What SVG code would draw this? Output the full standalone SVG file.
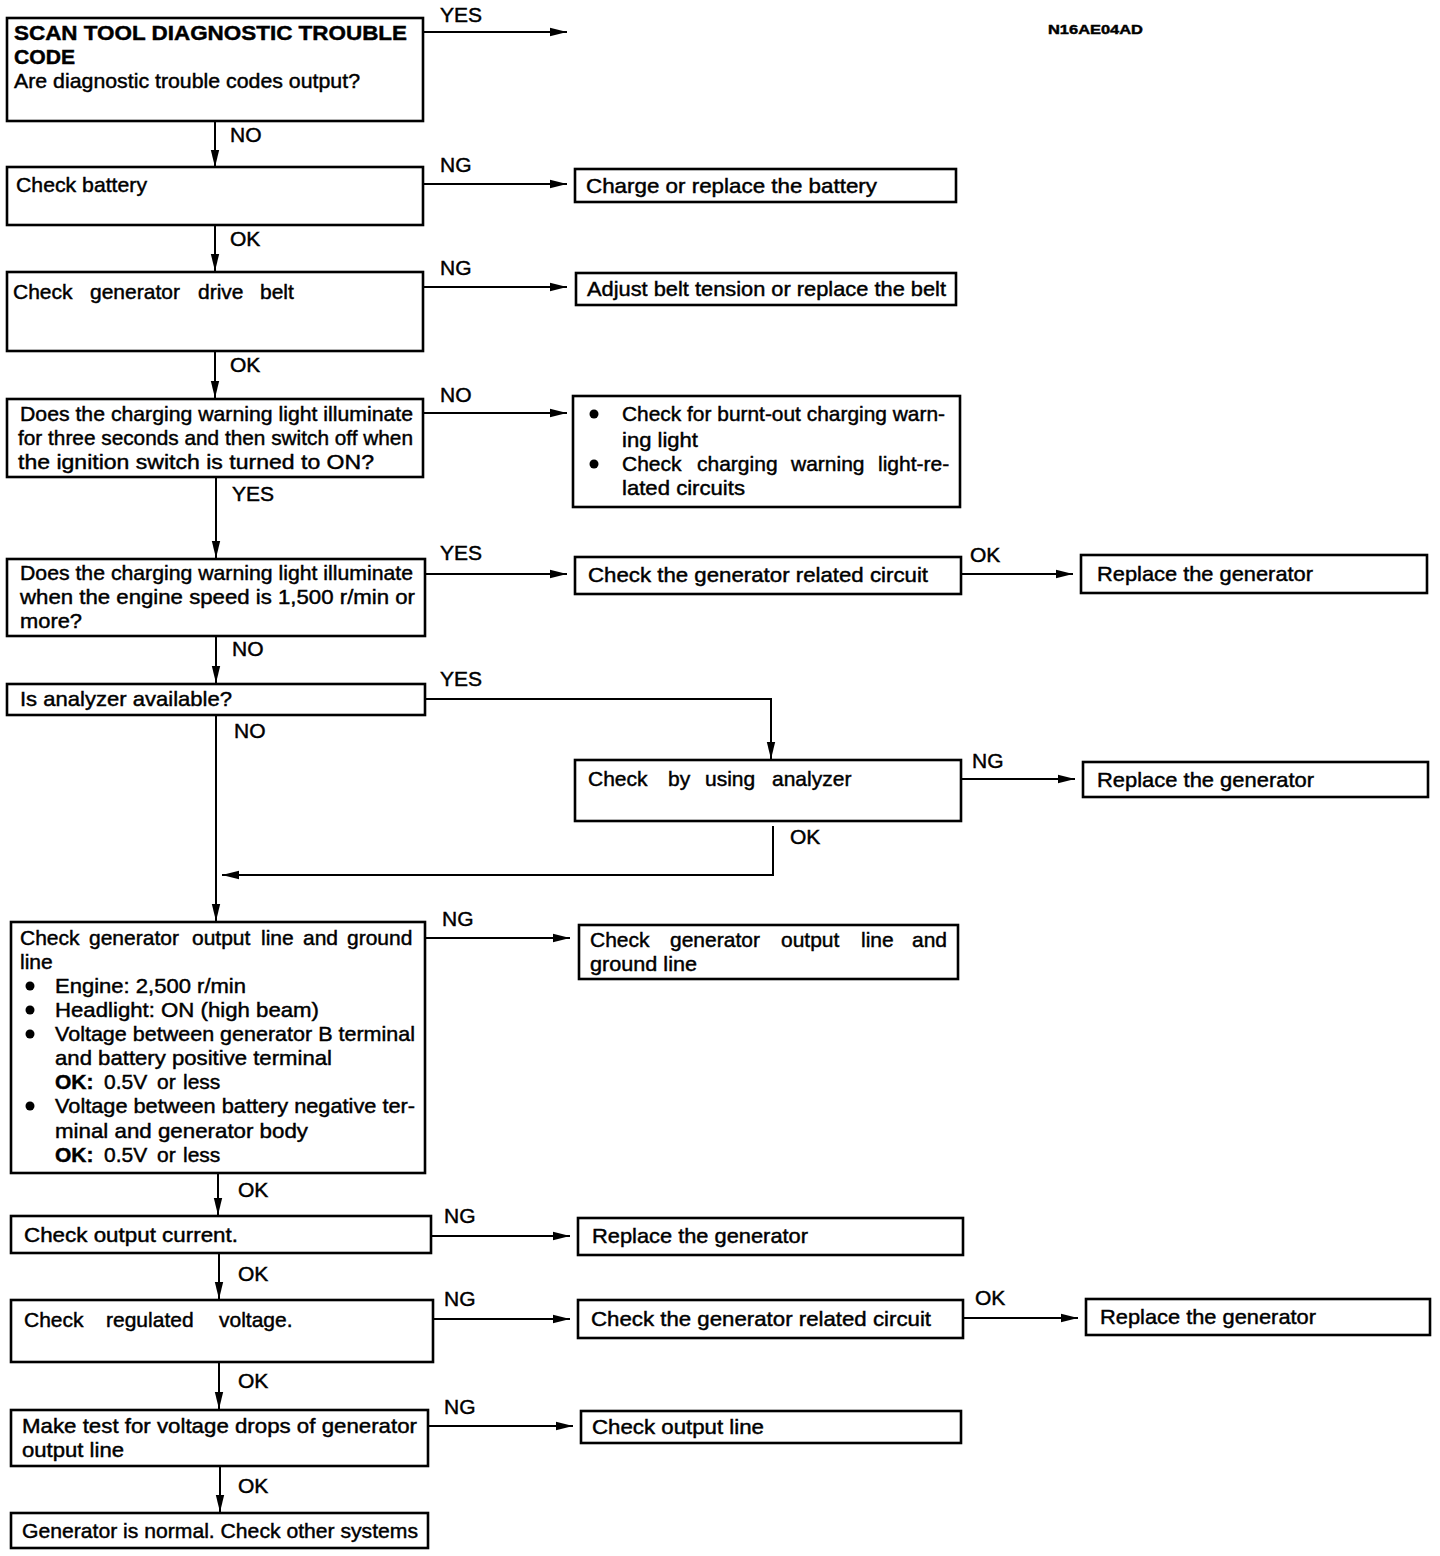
<svg xmlns="http://www.w3.org/2000/svg" width="1440" height="1556" viewBox="0 0 1440 1556">
<style>
  .box{fill:#fff;stroke:#000;stroke-width:2.6}
  .t{font-family:"Liberation Sans",Arial,sans-serif;font-size:21px;fill:#000;stroke:#000;stroke-width:0.45}
  .b{font-weight:bold}
  .lbl{font-family:"Liberation Sans",Arial,sans-serif;font-size:21px;fill:#000;stroke:#000;stroke-width:0.45}
  .c{fill:none;stroke:#000;stroke-width:2}
  .dot{fill:#000}
</style>
<defs>
  <marker id="ah" viewBox="0 0 17 10" refX="17" refY="5" markerWidth="17" markerHeight="10" markerUnits="userSpaceOnUse" orient="auto">
    <path d="M0,0.8 L17,5 L0,9.2 z" fill="#000"/>
  </marker>
</defs>
<rect width="1440" height="1556" fill="#fff"/>

<text class="t b" x="1048" y="34" style="font-size:13px" textLength="95" lengthAdjust="spacingAndGlyphs">N16AE04AD</text>

<g id="connectors">
  <line class="c" x1="423" y1="32" x2="567" y2="32" marker-end="url(#ah)"/>
  <line class="c" x1="215" y1="121" x2="215" y2="167" marker-end="url(#ah)"/>
  <line class="c" x1="423" y1="184" x2="567" y2="184" marker-end="url(#ah)"/>
  <line class="c" x1="215" y1="225" x2="215" y2="271" marker-end="url(#ah)"/>
  <line class="c" x1="423" y1="287" x2="567" y2="287" marker-end="url(#ah)"/>
  <line class="c" x1="215" y1="351" x2="215" y2="398" marker-end="url(#ah)"/>
  <line class="c" x1="423" y1="413" x2="567" y2="413" marker-end="url(#ah)"/>
  <line class="c" x1="216" y1="477" x2="216" y2="558" marker-end="url(#ah)"/>
  <line class="c" x1="425" y1="574" x2="567" y2="574" marker-end="url(#ah)"/>
  <line class="c" x1="961" y1="574" x2="1073" y2="574" marker-end="url(#ah)"/>
  <line class="c" x1="216" y1="636" x2="216" y2="683" marker-end="url(#ah)"/>
  <path class="c" d="M425,699 H771 V759" marker-end="url(#ah)"/>
  <line class="c" x1="216" y1="715" x2="216" y2="921" marker-end="url(#ah)"/>
  <line class="c" x1="961" y1="779" x2="1075" y2="779" marker-end="url(#ah)"/>
  <path class="c" d="M773,826 V875 H222" marker-end="url(#ah)"/>
  <line class="c" x1="425" y1="938" x2="570" y2="938" marker-end="url(#ah)"/>
  <line class="c" x1="218" y1="1173" x2="218" y2="1215" marker-end="url(#ah)"/>
  <line class="c" x1="431" y1="1236" x2="570" y2="1236" marker-end="url(#ah)"/>
  <line class="c" x1="219" y1="1253" x2="219" y2="1299" marker-end="url(#ah)"/>
  <line class="c" x1="433" y1="1319" x2="570" y2="1319" marker-end="url(#ah)"/>
  <line class="c" x1="963" y1="1318" x2="1078" y2="1318" marker-end="url(#ah)"/>
  <line class="c" x1="219" y1="1362" x2="219" y2="1409" marker-end="url(#ah)"/>
  <line class="c" x1="428" y1="1426" x2="573" y2="1426" marker-end="url(#ah)"/>
  <line class="c" x1="220" y1="1466" x2="220" y2="1512" marker-end="url(#ah)"/>

  <text class="lbl" x="440" y="22">YES</text>
  <text class="lbl" x="230" y="142">NO</text>
  <text class="lbl" x="440" y="172">NG</text>
  <text class="lbl" x="230" y="246">OK</text>
  <text class="lbl" x="440" y="275">NG</text>
  <text class="lbl" x="230" y="372">OK</text>
  <text class="lbl" x="440" y="402">NO</text>
  <text class="lbl" x="232" y="501">YES</text>
  <text class="lbl" x="440" y="560">YES</text>
  <text class="lbl" x="970" y="562">OK</text>
  <text class="lbl" x="232" y="656">NO</text>
  <text class="lbl" x="440" y="686">YES</text>
  <text class="lbl" x="234" y="738">NO</text>
  <text class="lbl" x="972" y="768">NG</text>
  <text class="lbl" x="790" y="844">OK</text>
  <text class="lbl" x="442" y="926">NG</text>
  <text class="lbl" x="238" y="1197">OK</text>
  <text class="lbl" x="444" y="1223">NG</text>
  <text class="lbl" x="238" y="1281">OK</text>
  <text class="lbl" x="444" y="1306">NG</text>
  <text class="lbl" x="975" y="1305">OK</text>
  <text class="lbl" x="238" y="1388">OK</text>
  <text class="lbl" x="444" y="1414">NG</text>
  <text class="lbl" x="238" y="1493">OK</text>
</g>

<g id="n1">
  <rect class="box" x="7" y="18" width="416" height="103"/>
  <text class="t b" x="14" y="40" textLength="393" lengthAdjust="spacingAndGlyphs">SCAN TOOL DIAGNOSTIC TROUBLE</text>
  <text class="t b" x="14" y="64" textLength="61" lengthAdjust="spacingAndGlyphs">CODE</text>
  <text class="t" x="14" y="88" textLength="346" lengthAdjust="spacingAndGlyphs">Are diagnostic trouble codes output?</text>
</g>

<g id="n2">
  <rect class="box" x="7" y="167" width="416" height="58"/>
  <text class="t" x="16" y="192" textLength="131" lengthAdjust="spacingAndGlyphs">Check battery</text>
</g>
<g id="n2r">
  <rect class="box" x="575" y="169" width="381" height="33"/>
  <text class="t" x="586" y="193" textLength="291" lengthAdjust="spacingAndGlyphs">Charge or replace the battery</text>
</g>

<g id="n3">
  <rect class="box" x="7" y="272" width="416" height="79"/>
  <text class="t" y="299"><tspan x="13">Check</tspan><tspan x="90">generator</tspan><tspan x="198">drive</tspan><tspan x="260">belt</tspan></text>
</g>
<g id="n3r">
  <rect class="box" x="576" y="273" width="380" height="32"/>
  <text class="t" x="587" y="296" textLength="359" lengthAdjust="spacingAndGlyphs">Adjust belt tension or replace the belt</text>
</g>

<g id="n4">
  <rect class="box" x="7" y="399" width="416" height="78"/>
  <text class="t" x="20" y="421" textLength="393" lengthAdjust="spacingAndGlyphs">Does the charging warning light illuminate</text>
  <text class="t" x="18" y="445" textLength="395" lengthAdjust="spacingAndGlyphs">for three seconds and then switch off when</text>
  <text class="t" x="18" y="469" textLength="356" lengthAdjust="spacingAndGlyphs">the ignition switch is turned to ON?</text>
</g>
<g id="n4r">
  <rect class="box" x="573" y="396" width="387" height="111"/>
  <circle class="dot" cx="594" cy="414" r="4.5"/>
  <circle class="dot" cx="594" cy="464" r="4.5"/>
  <text class="t" x="622" y="421" textLength="323" lengthAdjust="spacingAndGlyphs">Check for burnt-out charging warn-</text>
  <text class="t" x="622" y="447" textLength="76" lengthAdjust="spacingAndGlyphs">ing light</text>
  <text class="t" y="471"><tspan x="622">Check</tspan><tspan x="697">charging</tspan><tspan x="791">warning</tspan><tspan x="878">light-re-</tspan></text>
  <text class="t" x="622" y="495" textLength="123" lengthAdjust="spacingAndGlyphs">lated circuits</text>
</g>

<g id="n5">
  <rect class="box" x="7" y="559" width="418" height="77"/>
  <text class="t" x="20" y="580" textLength="393" lengthAdjust="spacingAndGlyphs">Does the charging warning light illuminate</text>
  <text class="t" x="20" y="604" textLength="395" lengthAdjust="spacingAndGlyphs">when the engine speed is 1,500 r/min or</text>
  <text class="t" x="20" y="628" textLength="62" lengthAdjust="spacingAndGlyphs">more?</text>
</g>
<g id="n5r">
  <rect class="box" x="575" y="557" width="386" height="37"/>
  <text class="t" x="588" y="582" textLength="340" lengthAdjust="spacingAndGlyphs">Check the generator related circuit</text>
</g>
<g id="n5rr">
  <rect class="box" x="1081" y="555" width="346" height="38"/>
  <text class="t" x="1097" y="581" textLength="216" lengthAdjust="spacingAndGlyphs">Replace the generator</text>
</g>

<g id="n6">
  <rect class="box" x="7" y="684" width="418" height="31"/>
  <text class="t" x="20" y="706" textLength="212" lengthAdjust="spacingAndGlyphs">Is analyzer available?</text>
</g>
<g id="n6r">
  <rect class="box" x="575" y="760" width="386" height="61"/>
  <text class="t" y="786"><tspan x="588">Check</tspan><tspan x="668">by</tspan><tspan x="705">using</tspan><tspan x="772">analyzer</tspan></text>
</g>
<g id="n6rr">
  <rect class="box" x="1083" y="762" width="345" height="35"/>
  <text class="t" x="1097" y="787" textLength="217" lengthAdjust="spacingAndGlyphs">Replace the generator</text>
</g>

<g id="n7">
  <rect class="box" x="11" y="922" width="414" height="251"/>
  <text class="t" y="945"><tspan x="20">Check</tspan><tspan x="89">generator</tspan><tspan x="192">output</tspan><tspan x="261">line</tspan><tspan x="303">and</tspan><tspan x="347">ground</tspan></text>
  <text class="t" x="20" y="969">line</text>
  <circle class="dot" cx="30" cy="986" r="4.5"/>
  <circle class="dot" cx="30" cy="1010" r="4.5"/>
  <circle class="dot" cx="30" cy="1034" r="4.5"/>
  <circle class="dot" cx="30" cy="1106" r="4.5"/>
  <text class="t" x="55" y="993" textLength="191" lengthAdjust="spacingAndGlyphs">Engine: 2,500 r/min</text>
  <text class="t" x="55" y="1017" textLength="264" lengthAdjust="spacingAndGlyphs">Headlight: ON (high beam)</text>
  <text class="t" x="55" y="1041" textLength="360" lengthAdjust="spacingAndGlyphs">Voltage between generator B terminal</text>
  <text class="t" x="55" y="1065" textLength="277" lengthAdjust="spacingAndGlyphs">and battery positive terminal</text>
  <text class="t" y="1089"><tspan x="55" class="b">OK:</tspan><tspan x="104">0.5V</tspan><tspan x="157">or</tspan><tspan x="183">less</tspan></text>
  <text class="t" x="55" y="1113" textLength="360" lengthAdjust="spacingAndGlyphs">Voltage between battery negative ter-</text>
  <text class="t" x="55" y="1138" textLength="253" lengthAdjust="spacingAndGlyphs">minal and generator body</text>
  <text class="t" y="1162"><tspan x="55" class="b">OK:</tspan><tspan x="104">0.5V</tspan><tspan x="157">or</tspan><tspan x="183">less</tspan></text>
</g>
<g id="n7r">
  <rect class="box" x="579" y="925" width="379" height="54"/>
  <text class="t" y="947"><tspan x="590">Check</tspan><tspan x="670">generator</tspan><tspan x="781">output</tspan><tspan x="861">line</tspan><tspan x="912">and</tspan></text>
  <text class="t" x="590" y="971" textLength="107" lengthAdjust="spacingAndGlyphs">ground line</text>
</g>

<g id="n8">
  <rect class="box" x="11" y="1216" width="420" height="37"/>
  <text class="t" x="24" y="1242" textLength="214" lengthAdjust="spacingAndGlyphs">Check output current.</text>
</g>
<g id="n8r">
  <rect class="box" x="578" y="1218" width="385" height="37"/>
  <text class="t" x="592" y="1243" textLength="216" lengthAdjust="spacingAndGlyphs">Replace the generator</text>
</g>

<g id="n9">
  <rect class="box" x="11" y="1300" width="422" height="62"/>
  <text class="t" y="1327"><tspan x="24">Check</tspan><tspan x="106">regulated</tspan><tspan x="219">voltage.</tspan></text>
</g>
<g id="n9r">
  <rect class="box" x="578" y="1300" width="385" height="38"/>
  <text class="t" x="591" y="1326" textLength="340" lengthAdjust="spacingAndGlyphs">Check the generator related circuit</text>
</g>
<g id="n9rr">
  <rect class="box" x="1086" y="1299" width="344" height="36"/>
  <text class="t" x="1100" y="1324" textLength="216" lengthAdjust="spacingAndGlyphs">Replace the generator</text>
</g>

<g id="n10">
  <rect class="box" x="11" y="1410" width="417" height="56"/>
  <text class="t" x="22" y="1433" textLength="395" lengthAdjust="spacingAndGlyphs">Make test for voltage drops of generator</text>
  <text class="t" x="22" y="1457" textLength="102" lengthAdjust="spacingAndGlyphs">output line</text>
</g>
<g id="n10r">
  <rect class="box" x="581" y="1411" width="380" height="32"/>
  <text class="t" x="592" y="1434" textLength="172" lengthAdjust="spacingAndGlyphs">Check output line</text>
</g>

<g id="n11">
  <rect class="box" x="11" y="1513" width="417" height="35"/>
  <text class="t" x="22" y="1538" textLength="396" lengthAdjust="spacingAndGlyphs">Generator is normal. Check other systems</text>
</g>
</svg>
